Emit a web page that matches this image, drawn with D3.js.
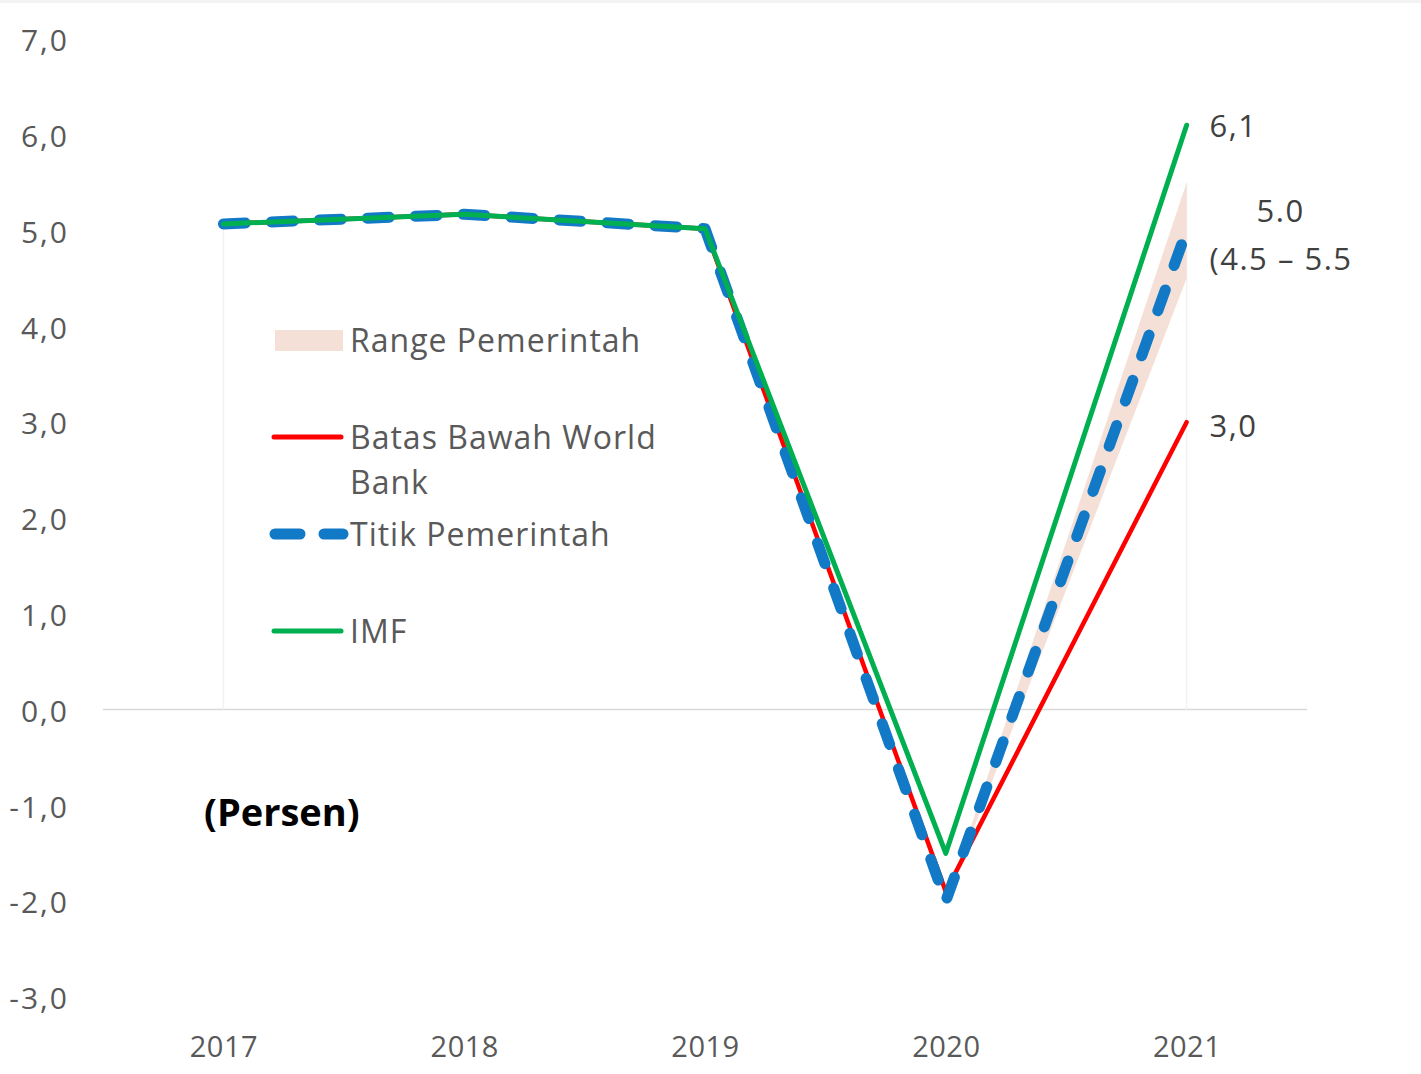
<!DOCTYPE html>
<html><head><meta charset="utf-8">
<script src="https://cdn.jsdelivr.net/npm/d3@7"></script>
<style>body{margin:0;background:#fff}svg{display:block}</style>
</head><body>
<script>
const years = ["2017","2018","2019","2020","2021"];
const worldBank = [5.07, 5.17, 5.02, -1.9, 3.0];
const titik = [5.07, 5.17, 5.02, -2.0, 5.0];
const imf = [5.07, 5.17, 5.02, -1.5, 6.1];
const rangeLow = [5.07, 5.17, 5.02, -2.0, 4.5];
const rangeHigh = [5.07, 5.17, 5.02, -2.0, 5.5];
const yTicks = [-3,-2,-1,0,1,2,3,4,5,6,7];
const yTickLabels = ["-3,0","-2,0","-1,0","0,0","1,0","2,0","3,0","4,0","5,0","6,0","7,0"];
const legendItems = ["Range Pemerintah","Batas Bawah World|Bank","Titik Pemerintah","IMF"];
const endLabels = ["6,1","5.0","(4.5 – 5.5","3,0"];

const W = 1421, H = 1074;
const svg = d3.select("body").append("svg").attr("width", W).attr("height", H);
const font = "'Open Sans', sans-serif";

svg.append("rect").attr("x",0).attr("y",0).attr("width",W).attr("height",3).attr("fill","#f3f3f3");

const x = d3.scalePoint().domain(years).range([103, 1307]).padding(0.5);
const y = d3.scaleLinear().domain([-3, 7]).range([997, 39]);

// y axis labels
const yAxis = d3.axisLeft(y).tickValues(yTicks).tickSize(0).tickPadding(0)
  .tickFormat(d => yTickLabels[yTicks.indexOf(d)]);
const gy = svg.append("g").attr("transform","translate(69,2)").call(yAxis);
gy.select(".domain").remove();
gy.selectAll("text").attr("font-family",font).attr("font-size",30).attr("letter-spacing",2).attr("fill","#595959");

// x axis labels
const xAxis = d3.axisBottom(x).tickSize(0).tickPadding(0);
const gx = svg.append("g").attr("transform","translate(0,1036)").call(xAxis);
gx.select(".domain").remove();
gx.selectAll("text").attr("font-family",font).attr("font-size",29).attr("letter-spacing",0.5).attr("fill","#595959");

// zero line
svg.append("line").attr("x1",103).attr("x2",1307).attr("y1",y(0)).attr("y2",y(0))
  .attr("stroke","#d9d9d9").attr("stroke-width",1.5);

// faint area edges
svg.append("line").attr("x1",x(years[0])).attr("x2",x(years[0])).attr("y1",y(rangeLow[0])).attr("y2",y(0))
  .attr("stroke","#f2f2f2").attr("stroke-width",1.5);
svg.append("line").attr("x1",x(years[4])).attr("x2",x(years[4])).attr("y1",y(rangeHigh[4])).attr("y2",y(0))
  .attr("stroke","#f2f2f2").attr("stroke-width",1.5);

// range area
const area = d3.area().x((d,i)=>x(years[i])).y0((d,i)=>y(rangeLow[i])).y1((d,i)=>y(rangeHigh[i]));
svg.append("path").datum(years).attr("d",area).attr("fill","#f4e0d6");

const line = arr => d3.line().x((d,i)=>x(years[i])).y((d,i)=>y(arr[i]))(arr);

svg.append("path").attr("d",line(worldBank)).attr("fill","none").attr("stroke","#ff0000")
  .attr("stroke-width",4.5).attr("stroke-linecap","round").attr("stroke-linejoin","round");
svg.append("path").attr("d",line(titik)).attr("fill","none").attr("stroke","#1279c6")
  .attr("stroke-width",11).attr("stroke-linecap","round").attr("stroke-linejoin","round")
  .attr("stroke-dasharray","22,26");
svg.append("path").attr("d",line(imf)).attr("fill","none").attr("stroke","#00b050")
  .attr("stroke-width",5).attr("stroke-linecap","round").attr("stroke-linejoin","round");

// legend
const lg = svg.append("g");
lg.append("rect").attr("x",275).attr("y",330).attr("width",68).attr("height",21).attr("fill","#f4e0d6");
lg.append("line").attr("x1",274).attr("x2",341).attr("y1",437).attr("y2",437).attr("stroke","#ff0000").attr("stroke-width",5).attr("stroke-linecap","round");
lg.append("line").attr("x1",275).attr("x2",343).attr("y1",534).attr("y2",534).attr("stroke","#1279c6").attr("stroke-width",11).attr("stroke-linecap","round").attr("stroke-dasharray","25,24");
lg.append("line").attr("x1",274).attr("x2",341).attr("y1",631).attr("y2",631).attr("stroke","#00b050").attr("stroke-width",5).attr("stroke-linecap","round");
const legY = [[352],[449,494],[546],[643]];
legendItems.forEach((t,i)=>{
  t.split("|").forEach((s,j)=>{
    lg.append("text").attr("x",350).attr("y",legY[i][j]).text(s)
      .attr("font-family",font).attr("font-size",32).attr("letter-spacing",1).attr("fill","#595959");
  });
});

// (Persen)
svg.append("text").attr("x",204).attr("y",826).text("(Persen)")
  .attr("font-family",font).attr("font-size",38).attr("font-weight","bold").attr("fill","#000");

// end labels
const ex = x(years[4]);
const endPos = [[ex+23, 137],[ex+70, 222],[ex+23, 270],[ex+23, 437]];
endLabels.forEach((t,i)=>{
  svg.append("text").attr("x",endPos[i][0]).attr("y",endPos[i][1]).text(t)
    .attr("font-family",font).attr("font-size",31).attr("letter-spacing",1.5).attr("fill","#404040");
});
</script>
</body></html>
